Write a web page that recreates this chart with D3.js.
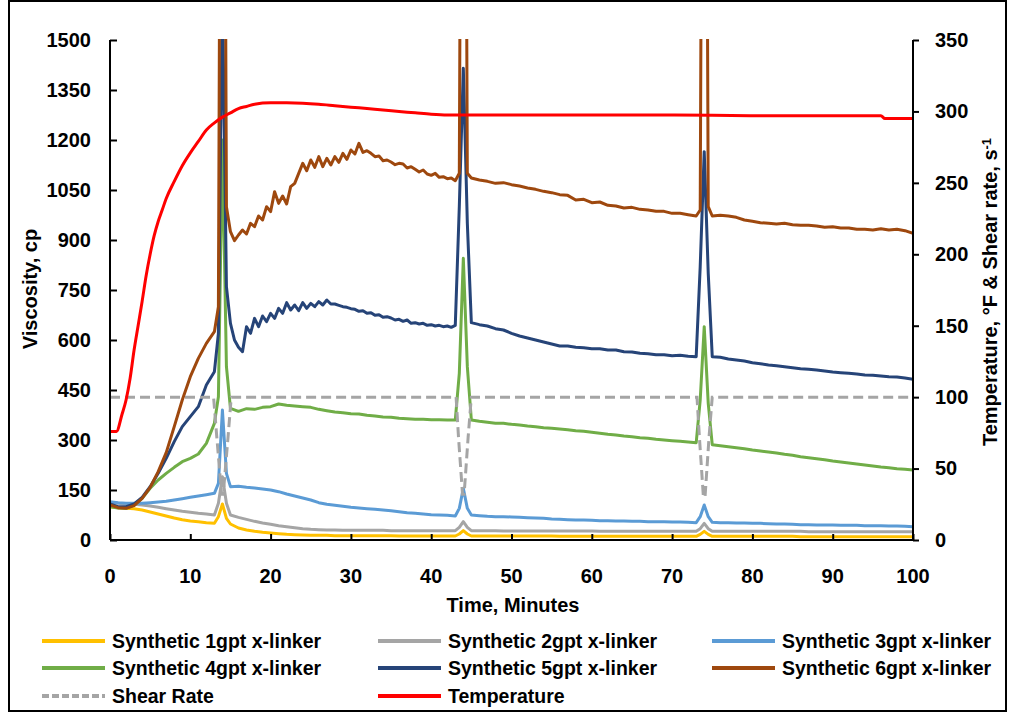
<!DOCTYPE html>
<html><head><meta charset="utf-8">
<script src="https://cdn.jsdelivr.net/npm/d3@7"></script>
<style>
html,body{margin:0;padding:0;background:#fff;}
svg{display:block;}
</style></head><body>
<svg id="chart" width="1013" height="715"></svg>
<script>
// ---------- DATA ----------
// time grid (minutes) for series 1-4
const minutes = [0,1,2,3,4,5,6,7,8,9,10,11,12,13,13.5,14,14.5,15,16,17,18,19,20,21,22,23,24,25,26,27,28,29,30,31,32,33,34,35,36,37,38,39,40,41,42,43,43.5,44,44.5,45,46,47,48,49,50,51,52,53,54,55,56,57,58,59,60,61,62,63,64,65,66,67,68,69,70,71,72,73,73.5,74,74.5,75,76,77,78,79,80,81,82,83,84,85,86,87,88,89,90,91,92,93,94,95,96,97,98,99,100];
// finer time grid (minutes) for the noisier series 5-6
const minutesFine = [0,1,2,3,4,5,6,7,8,9,10,11,12,13,13.5,14,14.5,15,15.5,16,16.5,17,17.5,18,18.5,19,19.5,20,20.5,21,21.5,22,22.5,23,23.5,24,24.5,25,25.5,26,26.5,27,27.5,28,28.5,29,29.5,30,30.5,31,31.5,32,32.5,33,33.5,34,34.5,35,35.5,36,36.5,37,37.5,38,38.5,39,39.5,40,40.5,41,41.5,42,42.5,43,43.5,44,44.5,45,46,47,48,49,50,51,52,53,54,55,56,57,58,59,60,61,62,63,64,65,66,67,68,69,70,71,72,73,73.5,74,74.5,75,76,77,78,79,80,81,82,83,84,85,86,87,88,89,90,91,92,93,94,95,96,97,98,99,100];

const synthetic1 = [100,97,95,94,90,84,78,72,66,61,57,55,52,50,70,108,65,48,36,30,26,23,21,19,17,16,15,14,14,14,13,13,13,13,13,13,13,13,12,12,12,12,12,12,12,12,18,28,18,12,12,12,12,12,12,12,12,12,12,12,11,11,11,11,11,11,11,11,11,11,11,11,11,11,11,11,11,11,17,26,17,11,11,11,11,11,11,11,11,11,11,11,10,10,10,10,10,10,10,10,10,10,10,10,10,10,10];
const synthetic2 = [112,110,108,107,105,102,98,94,90,86,83,80,78,75,110,190,110,75,68,62,56,51,47,43,40,37,34,32,31,30,30,29,29,29,29,29,29,28,28,28,28,28,28,28,28,28,38,55,38,28,28,28,28,27,27,27,27,27,27,27,27,27,27,27,27,26,26,26,26,26,26,26,26,26,26,26,26,26,34,50,34,26,26,26,26,26,26,26,26,26,26,26,26,25,25,25,25,25,25,25,25,25,25,25,25,25,25];
const synthetic3 = [115,112,110,110,110,112,114,116,120,124,128,132,136,140,170,390,200,160,161,158,156,153,150,145,138,132,126,120,112,107,104,101,98,96,94,92,90,88,85,82,80,78,76,75,74,72,95,155,95,75,73,71,70,70,69,68,67,66,65,63,62,61,60,60,59,58,58,57,57,56,56,55,55,55,54,54,53,52,70,105,70,53,52,52,51,51,50,50,49,48,48,47,46,46,45,45,45,44,44,44,43,43,43,42,42,41,40];
const synthetic4 = [100,96,95,105,125,155,180,200,218,235,245,258,290,350,430,1200,520,395,386,394,392,398,400,408,404,402,400,398,392,388,384,382,379,378,374,372,369,368,365,364,362,362,361,361,360,360,500,845,520,360,356,353,350,350,347,345,342,340,337,335,333,331,328,326,323,320,317,315,312,310,307,305,302,300,298,296,294,292,420,640,410,286,283,280,277,274,270,267,264,261,257,254,250,247,244,241,237,234,231,228,225,222,219,217,214,212,210];
const synthetic5 = [108,100,100,108,128,160,200,245,295,340,370,400,465,505,620,1650,760,650,600,578,565,640,620,665,640,672,655,680,665,695,680,712,690,705,688,712,695,710,700,715,705,720,708,708,704,700,698,694,692,686,688,680,682,674,676,668,670,666,660,662,656,660,650,652,648,650,644,646,642,644,640,642,638,644,1000,1415,950,652,646,642,634,630,620,612,606,600,594,588,582,582,578,577,574,574,570,570,565,564,560,559,556,556,553,554,551,550,820,1165,800,550,548,543,540,537,532,529,525,523,520,517,514,512,510,507,504,502,500,498,495,494,492,490,489,486,482];
const synthetic6 = [105,97,95,103,125,158,205,262,340,420,490,545,590,625,700,4000,1000,925,898,915,930,918,950,940,972,960,1000,985,1045,1010,1032,1008,1060,1070,1100,1130,1108,1140,1118,1150,1120,1145,1125,1150,1133,1160,1142,1170,1158,1190,1163,1168,1160,1150,1152,1138,1140,1134,1126,1130,1128,1116,1120,1112,1104,1110,1098,1094,1100,1088,1090,1084,1086,1078,1100,4000,1100,1086,1080,1076,1070,1072,1066,1062,1056,1052,1046,1042,1036,1034,1020,1022,1012,1014,1004,1002,996,998,992,990,986,986,980,980,976,972,990,4000,1000,972,974,972,968,960,956,952,950,948,950,946,944,944,942,938,940,936,936,932,932,930,934,930,932,928,920];

const tempMinutes = [0,0.8,1.5,2,2.5,3,3.5,4,4.5,5,5.5,6,6.5,7,8,9,10,11,12,13,14,15,16,17,18,20,22,24,26,28,30,32,34,36,38,40,42,44,50,60,70,80,90,96,96.5,100];
const temperature = [76,76,88,98,113,133,150,167,185,200,213,223,231,239,251,262,271,279,287,292,296,299,302,303.5,305,306,306,305.7,305,304,303,302,301,300,299,298,297.5,297.5,297.5,297.5,297.5,297,297,297,295,295];

const shearMinutes = [0,12.9,13.3,13.9,14.1,14.7,15.1,43.1,43.4,43.9,44.1,44.6,45,73.1,73.4,73.9,74.1,74.6,75,100];
const shearRate = [100,100,72,32,32,72,100,100,72,32,32,72,100,100,72,30,30,72,100,100];

const viscTicks = [0,150,300,450,600,750,900,1050,1200,1350,1500];
const rightTicks = [0,50,100,150,200,250,300,350];
const timeTicks = [0,10,20,30,40,50,60,70,80,90,100];

const seriesNames = ["Synthetic 1gpt x-linker","Synthetic 2gpt x-linker","Synthetic 3gpt x-linker","Synthetic 4gpt x-linker","Synthetic 5gpt x-linker","Synthetic 6gpt x-linker"];
const seriesColors = ["#FFC000","#A5A5A5","#5B9BD5","#70AD47","#264478","#9E480E"];
const seriesValues = [synthetic1,synthetic2,synthetic3,synthetic4,synthetic5,synthetic6];
const seriesTimes = [minutes,minutes,minutes,minutes,minutesFine,minutesFine];

// ---------- LAYOUT ----------
const FONT = "'Liberation Sans', Arial, sans-serif";
const svg = d3.select("#chart");
const L = 110, R = 913, T = 40, B = 540;
const x = d3.scaleLinear().domain([0,100]).range([L,R]);
const y = d3.scaleLinear().domain([0,1500]).range([B,T]);
const y2 = d3.scaleLinear().domain([0,350]).range([B,T]);

svg.append("rect").attr("x",9).attr("y",1).attr("width",997).attr("height",710)
  .attr("fill","#fff").attr("stroke","#000").attr("stroke-width",2);

svg.append("clipPath").attr("id","plotclip").append("rect")
  .attr("x",L).attr("y",T-1).attr("width",R-L).attr("height",B-T+1);

const plot = svg.append("g").attr("clip-path","url(#plotclip)");

seriesValues.forEach((vals,k)=>{
  const t = seriesTimes[k];
  const ln = d3.line().x((d,i)=>x(t[i])).y(d=>y(d));
  plot.append("path").datum(vals).attr("d",ln)
    .attr("fill","none").attr("stroke",seriesColors[k]).attr("stroke-width",3)
    .attr("stroke-linejoin","round");
});
const lineShear = d3.line().x((d,i)=>x(shearMinutes[i])).y(d=>y2(d));
plot.append("path").datum(shearRate).attr("d",lineShear)
  .attr("fill","none").attr("stroke","#A5A5A5").attr("stroke-width",3).attr("stroke-dasharray","10,5");
const lineTemp = d3.line().x((d,i)=>x(tempMinutes[i])).y(d=>y2(d)).curve(d3.curveMonotoneX);
plot.append("path").datum(temperature).attr("d",lineTemp)
  .attr("fill","none").attr("stroke","#FF0000").attr("stroke-width",3);

// ---------- AXES ----------
const tickFont = `bold 20px ${FONT}`;
const gL = svg.append("g").attr("transform",`translate(${L},0)`)
  .call(d3.axisRight(y).tickValues(viscTicks).tickSize(7));
gL.selectAll("text").remove();
gL.selectAll("line").attr("stroke","#000").attr("stroke-width",2);
gL.select(".domain").attr("stroke","#000").attr("stroke-width",2).attr("d",`M0,${T}V${B}`);
svg.append("g").selectAll("text").data(viscTicks).join("text")
  .attr("x",91).attr("y",d=>y(d)).attr("dy","0.36em").attr("text-anchor","end")
  .style("font",tickFont).text(d=>d);

const gR = svg.append("g").attr("transform",`translate(${R},0)`)
  .call(d3.axisRight(y2).tickValues(rightTicks).tickSize(6).tickPadding(16));
gR.selectAll("line").attr("stroke","#000").attr("stroke-width",2);
gR.select(".domain").attr("stroke","#000").attr("stroke-width",2).attr("d",`M0,${T}V${B}`);
gR.selectAll("text").style("font",tickFont).attr("fill","#000").attr("text-anchor","start");

const gB = svg.append("g").attr("transform",`translate(0,${B})`)
  .call(d3.axisTop(x).tickValues(timeTicks).tickSize(6));
gB.selectAll("text").remove();
gB.selectAll("line").attr("stroke","#000").attr("stroke-width",2);
gB.select(".domain").attr("stroke","#000").attr("stroke-width",2).attr("d",`M${L},0H${R}`);
svg.append("g").selectAll("text").data(timeTicks).join("text")
  .attr("x",d=>x(d)).attr("y",583).attr("text-anchor","middle")
  .style("font",tickFont).text(d=>d);

// ---------- TITLES ----------
svg.append("text").attr("x",513).attr("y",612).attr("text-anchor","middle")
  .style("font",`bold 20px ${FONT}`).text("Time, Minutes");
svg.append("text").attr("transform","translate(37,289) rotate(-90)").attr("text-anchor","middle")
  .style("font",`bold 20px ${FONT}`).text("Viscosity, cp");
const rt = svg.append("text").attr("transform","translate(997,292) rotate(-90)").attr("text-anchor","middle")
  .style("font",`bold 20px ${FONT}`);
rt.append("tspan").text("Temperature, °F & Shear rate, s");
rt.append("tspan").attr("dy","-0.45em").style("font-size","13px").text("-1");

// ---------- LEGEND ----------
const legendItems = seriesNames.map((n,k)=>({name:n,color:seriesColors[k],dash:null}))
  .concat([{name:"Shear Rate",color:"#A5A5A5",dash:"7,3"},{name:"Temperature",color:"#FF0000",dash:null}]);
const colX = [42,378,712], rowY = [641,668,696];
const lg = svg.append("g");
legendItems.forEach((it,i)=>{
  const cx = colX[i%3], cy = rowY[Math.floor(i/3)];
  lg.append("line").attr("x1",cx).attr("x2",cx+63).attr("y1",cy).attr("y2",cy)
    .attr("stroke",it.color).attr("stroke-width",4).attr("stroke-dasharray",it.dash);
  lg.append("text").attr("x",cx+70).attr("y",cy).attr("dy","0.36em")
    .style("font",`bold 19.5px ${FONT}`).text(it.name);
});
</script>
</body></html>
